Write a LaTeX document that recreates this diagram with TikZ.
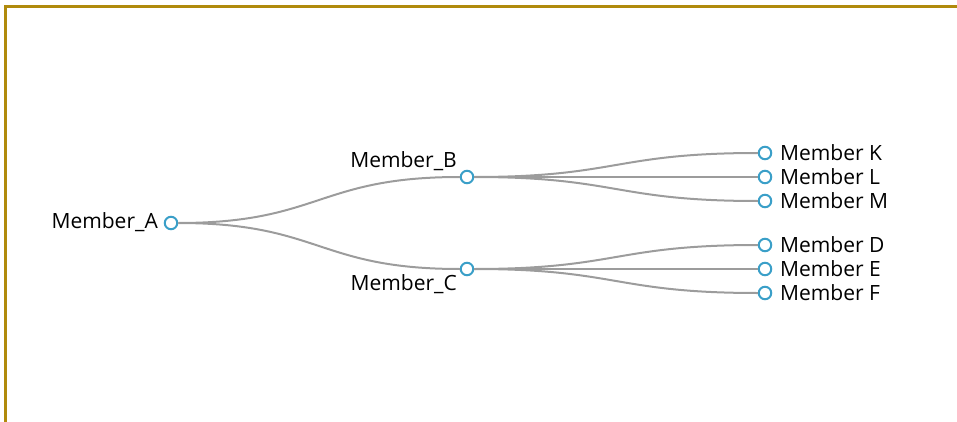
\documentclass[tikz,border=0pt]{standalone}
\usepackage{fontspec}
\setmainfont{Open Sans}
\usepackage{tikz}
\definecolor{frame}{HTML}{B08A0C}
\definecolor{ring}{HTML}{3A9FC8}
\definecolor{link}{HTML}{9C9C9C}
\tikzset{
	mem/.style={circle,draw=ring,line width=2pt,fill=white,inner sep=0pt,minimum size=12.5pt},
	txt/.style={inner sep=0pt,font=\fontsize{21}{24}\selectfont},
	edge/.style={draw=link,line width=2pt}
}

\begin{document}
\begin{tikzpicture}[x=1pt,y=-1pt]
		\useasboundingbox (0,0) rectangle (957,422);
		\draw[frame,line width=3pt] (5,422) -- (5,7) -- (957,7);
		
		\node[mem] (A) at (171,223) {};
		\node[mem] (B) at (467,177) {};
		\node[mem] (C) at (467,269) {};
		\node[mem] (K) at (765,153) {};
		\node[mem] (L) at (765,177) {};
		\node[mem] (M) at (765,201) {};
		\node[mem] (D) at (765,245) {};
		\node[mem] (E) at (765,269) {};
		\node[mem] (F) at (765,293) {};
		
		\path[edge] (A.east) .. controls +(142,0) and +(-142,0) .. (B.west);
		\path[edge] (A.east) .. controls +(142,0) and +(-142,0) .. (C.west);
		
		\path[edge] (B.east) .. controls +(143,0) and +(-143,0) .. (K.west);
		\path[edge] (B.east) -- (L.west);
		\path[edge] (B.east) .. controls +(143,0) and +(-143,0) .. (M.west);
		\path[edge] (C.east) .. controls +(143,0) and +(-143,0) .. (D.west);
		\path[edge] (C.east) -- (E.west);
		\path[edge] (C.east) .. controls +(143,0) and +(-143,0) .. (F.west);
		
		\node[txt,anchor=east] (a) at (158,222) {Member\_A};
		\node[txt,anchor=east] (b) at (457,161) {Member\_B};
		\node[txt,anchor=east] (c) at (457,284) {Member\_C};
		\node[txt,anchor=west] (k) at (780,153) {Member K};
		\node[txt,anchor=west] (l) at (780,177) {Member L};
		\node[txt,anchor=west] (m) at (780,201) {Member M};
		\node[txt,anchor=west] (d) at (780,245) {Member D};
		\node[txt,anchor=west] (e) at (780,269) {Member E};
		\node[txt,anchor=west] (f) at (780,293) {Member F};
	\end{tikzpicture}
\end{document}
